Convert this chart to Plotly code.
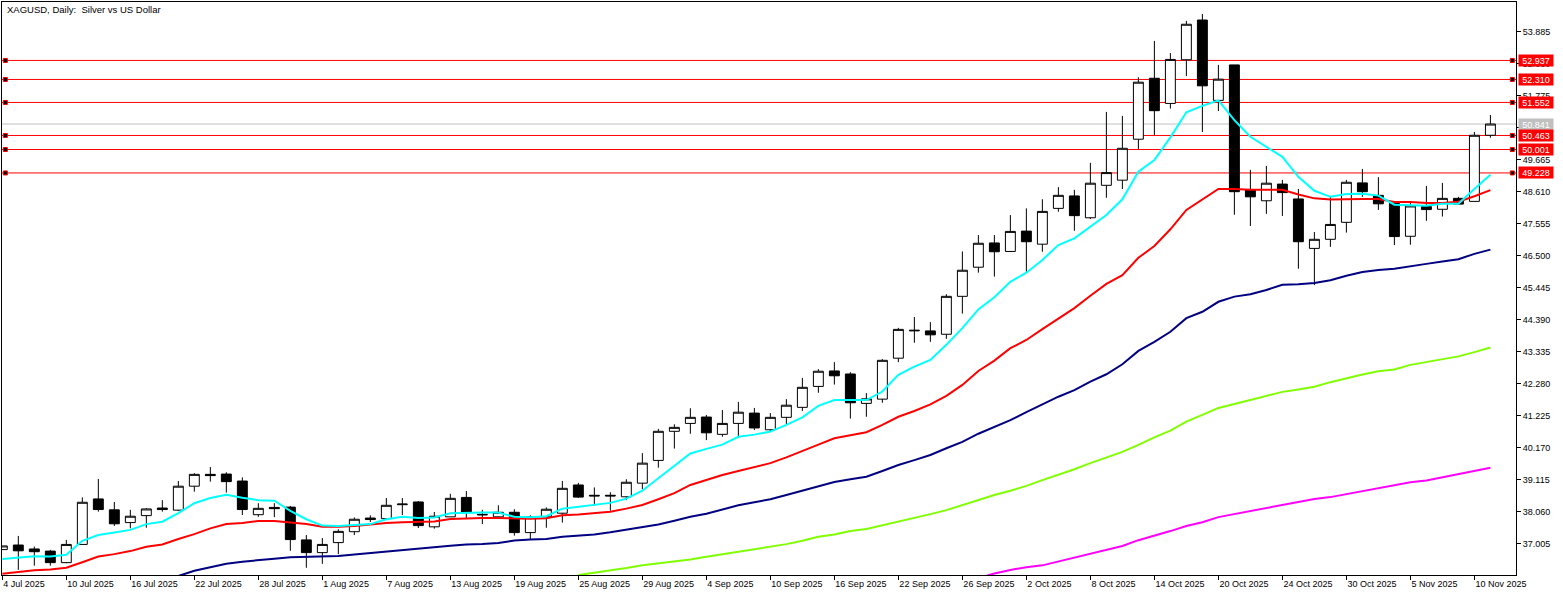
import plotly.graph_objects as go

opens = [36.81, 36.96, 36.83, 36.76, 36.38, 36.98, 38.48, 38.12, 37.70, 37.93, 38.18, 38.11, 38.90, 39.29, 39.30, 39.07,
         37.96, 38.20, 38.21, 37.13, 36.71, 37.04, 37.40, 37.85, 37.83, 38.29, 38.38, 37.56, 37.89, 38.53, 37.95, 37.89,
         38.04, 37.37, 37.89, 38.01, 38.94, 38.60, 38.60, 38.55, 39.00, 39.75, 40.71, 40.97, 41.18, 40.61, 40.97, 41.31,
         40.76, 41.17, 41.50, 42.19, 42.70, 42.60, 41.63, 41.77, 43.12, 44.02, 44.02, 43.91, 45.16, 46.12, 46.92, 46.64,
         47.31, 46.88, 48.06, 48.47, 47.75, 48.82, 48.99, 50.34, 52.35, 51.52, 52.96, 54.27, 51.62, 52.79, 48.67, 48.31,
         48.86, 48.37, 46.74, 47.04, 47.60, 48.90, 48.49, 48.23, 47.14, 48.12, 48.03, 48.39, 48.29, 50.47]
highs = [36.93, 37.26, 36.91, 36.80, 37.13, 38.53, 39.14, 38.38, 38.12, 38.18, 38.44, 39.07, 39.33, 39.53, 39.36, 39.19,
         38.34, 38.34, 38.25, 37.29, 37.19, 37.48, 37.87, 37.94, 38.51, 38.51, 38.41, 38.05, 38.65, 38.74, 38.12, 38.27,
         38.14, 37.94, 38.20, 39.07, 39.01, 38.86, 38.70, 39.13, 39.99, 40.79, 40.94, 41.47, 41.25, 41.41, 41.68, 41.48,
         41.31, 41.77, 42.47, 42.76, 42.99, 42.66, 41.97, 43.09, 44.12, 44.48, 44.31, 45.23, 46.64, 47.18, 47.18, 47.84,
         48.06, 48.36, 48.76, 48.67, 49.56, 51.24, 51.11, 52.38, 53.58, 53.18, 54.24, 54.47, 52.79, 52.79, 49.33, 49.46,
         49.00, 48.70, 47.28, 48.44, 49.00, 49.36, 49.09, 48.27, 48.28, 48.80, 48.90, 48.44, 50.58, 51.14]
lows = [36.80, 36.14, 36.28, 36.28, 36.36, 36.98, 38.06, 37.59, 37.51, 37.53, 38.06, 38.08, 38.72, 39.05, 38.69, 37.95,
        37.89, 37.88, 36.77, 36.21, 36.34, 36.66, 37.29, 37.72, 37.82, 37.95, 37.52, 37.50, 37.89, 37.85, 37.65, 37.85,
        37.27, 37.13, 37.53, 37.70, 38.51, 38.25, 38.09, 38.44, 38.80, 39.51, 40.14, 40.63, 40.42, 40.53, 40.49, 40.75,
        40.70, 40.95, 41.38, 41.98, 42.25, 41.13, 41.19, 41.65, 42.99, 43.63, 43.66, 43.76, 44.59, 45.94, 45.81, 46.64,
        45.97, 46.63, 47.95, 47.32, 47.71, 48.41, 48.70, 50.02, 50.48, 51.35, 52.42, 50.58, 51.27, 47.85, 47.48, 47.88,
        47.81, 46.07, 45.53, 46.79, 47.26, 48.44, 48.01, 46.85, 46.86, 47.65, 47.79, 48.20, 48.29, 50.39]
closes = [36.93, 36.77, 36.74, 36.38, 36.98, 38.37, 38.13, 37.66, 37.91, 38.15, 38.13, 38.90, 39.29, 39.25, 39.05, 38.13,
          38.17, 38.16, 37.14, 36.71, 36.98, 37.41, 37.81, 37.80, 38.27, 38.31, 37.60, 37.91, 38.50, 38.04, 37.97, 38.04,
          37.37, 37.89, 38.14, 38.83, 38.54, 38.58, 38.58, 39.03, 39.66, 40.71, 40.84, 41.17, 40.66, 40.97, 41.34, 40.82,
          41.17, 41.57, 42.16, 42.69, 42.54, 41.65, 41.78, 43.05, 44.07, 44.04, 43.89, 45.16, 46.02, 46.91, 46.63, 47.30,
          46.96, 47.96, 48.49, 47.82, 48.89, 49.24, 50.04, 52.22, 51.28, 52.97, 54.13, 52.10, 52.32, 48.61, 48.44, 48.89,
          48.58, 46.96, 47.04, 47.53, 48.92, 48.61, 48.21, 47.13, 48.14, 48.02, 48.39, 48.20, 50.47, 50.841]

ma_cyan = [36.50, 36.54, 36.59, 36.58, 36.64, 37.10, 37.29, 37.37, 37.46, 37.65, 37.73, 38.01, 38.34, 38.51, 38.62, 38.52,
           38.44, 38.42, 38.09, 37.81, 37.60, 37.59, 37.63, 37.65, 37.81, 37.89, 37.85, 37.87, 38.01, 38.03, 38.03, 38.03,
           37.89, 37.88, 37.91, 38.16, 38.22, 38.30, 38.35, 38.49, 38.75, 39.16, 39.58, 39.98, 40.13, 40.27, 40.53, 40.60,
           40.70, 40.92, 41.17, 41.55, 41.74, 41.74, 41.74, 42.02, 42.57, 42.84, 43.06, 43.56, 44.11, 44.73, 45.13, 45.64,
           45.94, 46.36, 46.85, 47.07, 47.46, 47.84, 48.36, 49.27, 49.65, 50.40, 51.23, 51.44, 51.62, 50.97, 50.42, 50.09,
           49.76, 49.10, 48.64, 48.44, 48.53, 48.54, 48.48, 48.18, 48.16, 48.15, 48.21, 48.21, 48.70, 49.17]
ma_red = [36.01, 36.07, 36.13, 36.15, 36.21, 36.39, 36.58, 36.66, 36.76, 36.90, 36.98, 37.16, 37.32, 37.51, 37.65, 37.69,
          37.75, 37.75, 37.71, 37.65, 37.56, 37.56, 37.59, 37.64, 37.69, 37.71, 37.72, 37.74, 37.82, 37.84, 37.85, 37.85,
          37.83, 37.83, 37.84, 37.94, 37.97, 38.02, 38.06, 38.16, 38.28, 38.47, 38.67, 38.94, 39.10, 39.27, 39.40, 39.53,
          39.66, 39.85, 40.07, 40.27, 40.48, 40.58, 40.68, 40.92, 41.19, 41.38, 41.60, 41.88, 42.24, 42.70, 43.04, 43.45,
          43.72, 44.08, 44.44, 44.77, 45.18, 45.57, 45.86, 46.43, 46.82, 47.37, 48.01, 48.36, 48.70, 48.70, 48.67, 48.67,
          48.67, 48.52, 48.39, 48.35, 48.37, 48.37, 48.37, 48.27, 48.27, 48.24, 48.24, 48.28, 48.46, 48.66]
ma_navy = [None] * 11 + [
    35.94, 36.11, 36.23, 36.34, 36.41, 36.47, 36.51, 36.56, 36.58, 36.58, 36.60, 36.65, 36.70, 36.76, 36.81, 36.86,
    36.90, 36.94, 36.98, 36.99, 37.03, 37.11, 37.14, 37.16, 37.23, 37.27, 37.31, 37.38, 37.46, 37.55, 37.64, 37.76,
    37.89, 37.99, 38.13, 38.27, 38.37, 38.47, 38.61, 38.75, 38.91, 39.04, 39.13, 39.21, 39.40, 39.60, 39.76, 39.93,
    40.15, 40.36, 40.63, 40.86, 41.08, 41.34, 41.60, 41.85, 42.07, 42.35, 42.59, 42.92, 43.36, 43.66, 43.99, 44.44,
    44.65, 44.98, 45.15, 45.23, 45.37, 45.54, 45.56, 45.60, 45.69, 45.84, 45.96, 46.03, 46.07, 46.14, 46.23, 46.31,
    46.38, 46.56, 46.70]
ma_green = [None] * 36 + [
    35.97, 36.04, 36.12, 36.20, 36.29, 36.35, 36.42, 36.48, 36.57, 36.65, 36.73, 36.83, 36.90, 36.99, 37.10, 37.23,
    37.31, 37.42, 37.49, 37.61, 37.72, 37.85, 37.98, 38.11, 38.28, 38.44, 38.61, 38.75, 38.91, 39.10, 39.27, 39.46,
    39.66, 39.85, 40.03, 40.26, 40.51, 40.73, 41.03, 41.25, 41.48, 41.61, 41.74, 41.87, 42.01, 42.09, 42.18, 42.33,
    42.46, 42.58, 42.69, 42.75, 42.90, 43.00, 43.08, 43.18, 43.32, 43.47]
ma_magenta = [None] * 61 + [
    35.87, 36.02, 36.14, 36.23, 36.29, 36.42, 36.56, 36.69, 36.82, 36.93, 37.12, 37.26, 37.42, 37.59, 37.71, 37.88,
    37.98, 38.07, 38.18, 38.28, 38.38, 38.48, 38.54, 38.64, 38.74, 38.84, 38.93, 39.03, 39.09, 39.19, 39.29, 39.39,
    39.51]

level_prices = [52.937, 52.310, 51.552, 50.463, 50.001, 49.228]
last_price = 50.841

price_ticks = [53.885, 52.830, 51.775, 50.720, 49.665, 48.610, 47.555, 46.500, 45.445, 44.390, 43.335, 42.280,
               41.225, 40.170, 39.115, 38.060, 37.005]
date_ticks = [0, 4, 8, 12, 16, 20, 24, 28, 32, 36, 40, 44, 48, 52, 56, 60, 64, 68, 72, 76, 80, 84, 88, 92]
date_labels = ["4 Jul 2025", "10 Jul 2025", "16 Jul 2025", "22 Jul 2025", "28 Jul 2025", "1 Aug 2025", "7 Aug 2025",
               "13 Aug 2025", "19 Aug 2025", "25 Aug 2025", "29 Aug 2025", "4 Sep 2025", "10 Sep 2025", "16 Sep 2025",
               "22 Sep 2025", "26 Sep 2025", "2 Oct 2025", "8 Oct 2025", "14 Oct 2025", "20 Oct 2025", "24 Oct 2025",
               "30 Oct 2025", "5 Nov 2025", "10 Nov 2025"]

FONT = "Liberation Sans"
bars = list(range(len(opens)))

fig = go.Figure()
fig.add_trace(go.Candlestick(
    x=bars, open=opens, high=highs, low=lows, close=closes, whiskerwidth=0,
    increasing=dict(line=dict(color="black", width=1), fillcolor="white"),
    decreasing=dict(line=dict(color="black", width=1), fillcolor="black"),
))
for values, color in [(ma_magenta, "#ff00ff"), (ma_green, "#7fff00"), (ma_navy, "#000080"),
                      (ma_red, "#ff0000"), (ma_cyan, "#00ffff")]:
    fig.add_trace(go.Scatter(x=bars, y=values, mode="lines", line=dict(color=color, width=2), hoverinfo="skip"))

# horizontal levels sit behind the candles
fig.add_hline(y=last_price, line=dict(color="#c0c0c0", width=1), layer="below")
for price in level_prices:
    fig.add_hline(y=price, line=dict(color="#ff0000", width=1), layer="below")
    for anchor in (0.19, 94.37):
        fig.add_shape(type="rect", xref="x", yref="y", xsizemode="pixel", ysizemode="pixel",
                      xanchor=anchor, yanchor=price, x0=-2, x1=2, y0=-2, y1=2,
                      fillcolor="black", line=dict(color="#ff0000", width=1))

for price, color in [(last_price, "#c0c0c0")] + [(p, "#ff0000") for p in level_prices]:
    fig.add_annotation(text=f"{price:.3f}", xref="paper", x=1, xanchor="left", xshift=2, yref="y", y=price,
                       yanchor="middle", showarrow=False, bgcolor=color, width=34, height=11, borderpad=0,
                       font=dict(family=FONT, size=9, color="white"))

fig.add_annotation(text="XAGUSD, Daily:\u00a0 Silver vs US Dollar", xref="paper", yref="paper", x=0, y=1,
                   xanchor="left", yanchor="top", xshift=4, yshift=-1, showarrow=False, borderpad=0,
                   font=dict(family=FONT, size=9.5, color="black"))

fig.update_layout(
    width=1563, height=596, autosize=False, showlegend=False, plot_bgcolor="white", paper_bgcolor="white",
    margin=dict(l=2, r=47, t=2, b=21), boxgap=0.38, boxgroupgap=0, font=dict(family=FONT, size=9, color="black"),
    xaxis=dict(range=[-0.02, 94.6], rangeslider_visible=False, showgrid=False, zeroline=False, showline=True,
               linecolor="black", linewidth=1, mirror=True, ticks="outside", ticklen=4, tickcolor="black",
               tickvals=date_ticks, ticktext=date_labels, ticklabelposition="outside right", tickangle=0,
               tickfont=dict(family=FONT, size=9)),
    yaxis=dict(range=[35.972, 54.864], side="right", showgrid=False, zeroline=False, showline=True,
               linecolor="black", linewidth=1, mirror=True, ticks="outside", ticklen=4, tickcolor="black",
               tickvals=price_ticks, tickformat=".3f", tickfont=dict(family=FONT, size=9)),
)

fig.write_html("out.html", config=dict(displayModeBar=False),
               post_script="document.body.style.margin='0';document.body.style.overflow='hidden';")
